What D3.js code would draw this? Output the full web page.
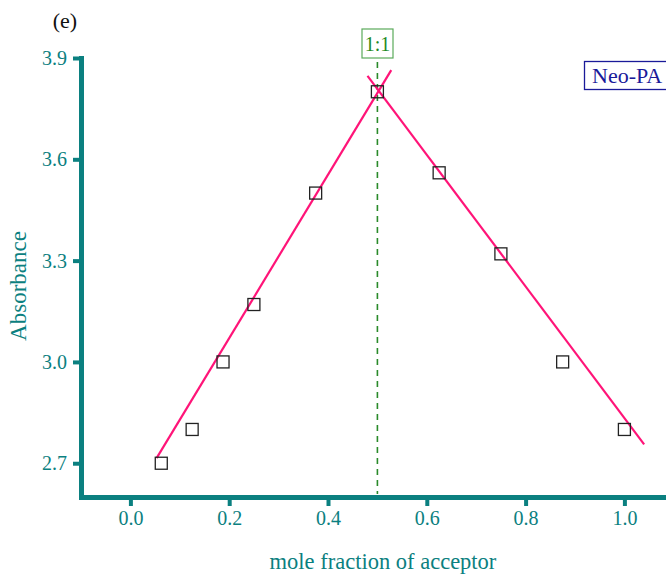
<!DOCTYPE html>
<html>
<head>
<meta charset="utf-8">
<script src="https://cdn.jsdelivr.net/npm/d3@7"></script>
<style>
  body { margin: 0; background: #fff; }
  svg { display: block; font-family: "Liberation Serif", "Times New Roman", serif; }
</style>
</head>
<body>
<script>
// Job's plot data
var fraction = [0.0625, 0.125, 0.1875, 0.25, 0.375, 0.5, 0.625, 0.75, 0.875, 1.0];
var absorbance = [2.70, 2.80, 3.00, 3.17, 3.50, 3.80, 3.56, 3.32, 3.00, 2.80];
// the two fitted lines, end points
var leftFit = [[0.053, 2.715], [0.528, 3.864]];
var rightFit = [[0.48, 3.847], [1.04, 2.756]];
var xTicks = [0.0, 0.2, 0.4, 0.6, 0.8, 1.0];
var yTicks = [2.7, 3.0, 3.3, 3.6, 3.9];

var w = 666;
var h = 574;
var teal = "#0b8080";

var svg = d3.select("body")
    .append("svg")
    .attr("width", w)
    .attr("height", h);

var x = d3.scaleLinear().domain([-0.1, 1.1]).range([81, 81 + 1.2 * 494]);
var y = d3.scaleLinear().domain([2.6, 3.9]).range([497, 58]);

// 1:1 dashed marker
svg.append("line")
    .attr("x1", x(0.5)).attr("x2", x(0.5))
    .attr("y1", 62).attr("y2", 494)
    .attr("stroke", "#2a8a2a")
    .attr("stroke-width", 1.6)
    .attr("stroke-dasharray", "6,5");

// axes
var xAxis = svg.append("g")
    .attr("transform", "translate(0," + y(2.6) + ")")
    .call(d3.axisBottom(x).tickValues(xTicks).tickFormat(d3.format(".1f")).tickSize(9).tickSizeOuter(0).tickPadding(5));

var yAxis = svg.append("g")
    .attr("transform", "translate(" + x(-0.1) + ",0)")
    .call(d3.axisLeft(y).tickValues(yTicks).tickFormat(d3.format(".1f")).tickSize(8).tickSizeOuter(0).tickPadding(6));

[xAxis, yAxis].forEach(function(a){
    a.select(".domain").attr("stroke", teal).attr("stroke-width", 5).attr("stroke-linecap", "square");
    a.selectAll(".tick line").attr("stroke", teal).attr("stroke-width", 4);
    a.selectAll(".tick text")
        .attr("fill", teal)
        .style("font-family", "Liberation Serif, serif")
        .style("font-size", "20px");
});

// fit lines
var line = d3.line()
    .x(function(d){ return x(d[0]); })
    .y(function(d){ return y(d[1]); });

[leftFit, rightFit].forEach(function(seg){
    svg.append("path")
        .attr("d", line(seg))
        .attr("fill", "none")
        .attr("stroke", "#ff1478")
        .attr("stroke-width", 2.2);
});

// square markers
var s = 12;
svg.selectAll("rect.pt")
    .data(fraction)
    .enter()
    .append("rect")
    .attr("class", "pt")
    .attr("x", function(d){ return x(d) - s / 2; })
    .attr("y", function(d, i){ return y(absorbance[i]) - s / 2; })
    .attr("width", s)
    .attr("height", s)
    .attr("fill", "none")
    .attr("stroke", "#222")
    .attr("stroke-width", 1.3);

// labels
svg.append("text")
    .text("(e)")
    .attr("x", 65).attr("y", 28)
    .attr("text-anchor", "middle")
    .style("font-size", "22px")
    .attr("fill", "#111");

svg.append("text")
    .text("Absorbance")
    .attr("transform", "translate(26,286) rotate(-90)")
    .attr("text-anchor", "middle")
    .style("font-size", "23px")
    .attr("fill", teal);

svg.append("text")
    .text("mole fraction of acceptor")
    .attr("x", 383).attr("y", 569)
    .attr("text-anchor", "middle")
    .style("font-size", "22.5px")
    .attr("fill", teal);

// 1:1 box
svg.append("rect")
    .attr("x", 362).attr("y", 29).attr("width", 31).attr("height", 29)
    .attr("fill", "#fff")
    .attr("stroke", "#5aaa5a")
    .attr("stroke-width", 1.2);
svg.append("text")
    .text("1:1")
    .attr("x", 377.5).attr("y", 51)
    .attr("text-anchor", "middle")
    .style("font-size", "20px")
    .attr("fill", "#1f8a1f");

// legend box
svg.append("rect")
    .attr("x", 584.5).attr("y", 61.5).attr("width", 100).attr("height", 28)
    .attr("fill", "#fff")
    .attr("stroke", "#1a1a99")
    .attr("stroke-width", 1.3);
svg.append("text")
    .text("Neo-PA")
    .attr("x", 592).attr("y", 83)
    .style("font-size", "22px")
    .attr("fill", "#1a1a9a");
</script>
</body>
</html>
